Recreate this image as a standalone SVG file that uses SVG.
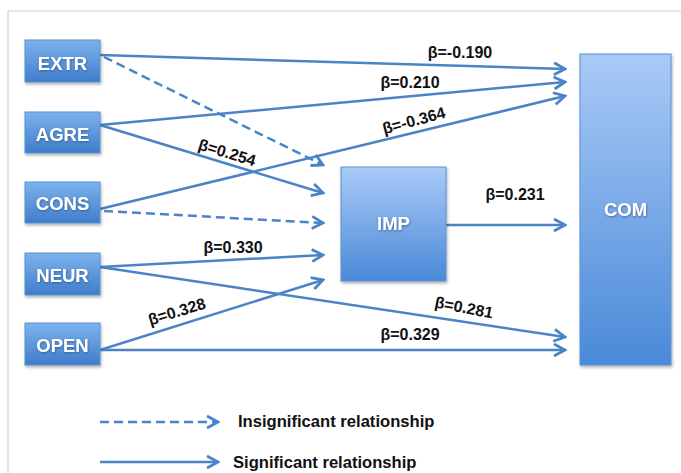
<svg xmlns="http://www.w3.org/2000/svg" width="681" height="473" viewBox="0 0 681 473">
<defs>
<linearGradient id="gs" x1="0" y1="0" x2="0" y2="1">
<stop offset="0" stop-color="#7db3ee"/>
<stop offset="1" stop-color="#3f7dcb"/>
</linearGradient>
<linearGradient id="gb" x1="0" y1="0" x2="0" y2="1">
<stop offset="0" stop-color="#a9caf7"/>
<stop offset="1" stop-color="#4a8ad8"/>
</linearGradient>
<filter id="sh" x="-10%" y="-10%" width="125%" height="125%">
<feDropShadow dx="1" dy="2" stdDeviation="1.5" flood-color="#000" flood-opacity="0.3"/>
</filter>
<filter id="ts" x="-10%" y="-20%" width="120%" height="150%">
<feDropShadow dx="0.5" dy="1" stdDeviation="0.8" flood-color="#1a3a66" flood-opacity="0.6"/>
</filter>
<marker id="ah" markerUnits="userSpaceOnUse" markerWidth="16" markerHeight="16" viewBox="0 0 16 16" refX="14" refY="8" orient="auto">
<polyline points="3,2 14,8 3,14" fill="none" stroke="#4a84c6" stroke-width="2.8" stroke-linejoin="miter"/>
</marker>
</defs>
<style>
.box{stroke:#5b8fcf;stroke-width:1;filter:url(#sh)}
.sm{fill:url(#gs)}
.bg{fill:url(#gb)}
.bl{font-family:"Liberation Sans",Arial,sans-serif;font-weight:bold;font-size:18.5px;fill:#fff;text-anchor:middle;filter:url(#ts)}
.ln{fill:none;stroke:#4a84c6;stroke-width:2.5;marker-end:url(#ah)}
.ds{stroke-dasharray:9,5}
.lb{font-family:"Liberation Sans",Arial,sans-serif;font-weight:bold;font-size:16px;fill:#111;text-anchor:middle}
.lg{font-family:"Liberation Sans",Arial,sans-serif;font-weight:bold;font-size:16.6px;fill:#111}
</style>
<rect width="681" height="473" fill="#fff"/>
<path d="M8,473 V11 H681" fill="none" stroke="#cfcfcf" stroke-width="1.2"/>

<g id="connectors">
<path class="ln" d="M100,55 L565,69"/>
<path class="ln" d="M100,125 L565,82"/>
<path class="ln" d="M100,209 L565,96"/>
<path class="ln ds" d="M104,57 L323,165"/>
<path class="ln" d="M100,125 L323,193"/>
<path class="ln ds" d="M104,211 L323,223"/>
<path class="ln" d="M100,267 L323,255"/>
<path class="ln" d="M100,350 L323,280"/>
<path class="ln" d="M100,267 L565,337"/>
<path class="ln" d="M100,350 L565,350"/>
<path class="ln" d="M446,225 L565,225"/>
<path class="ln ds" d="M100,422 L218,422"/>
<path class="ln" d="M100,462 L218,462"/>
</g>

<g id="EXTR"><rect class="box sm" x="25" y="40" width="75" height="42"/><text class="bl" x="62.5" y="70">EXTR</text></g>
<g id="AGRE"><rect class="box sm" x="25" y="112" width="75" height="41"/><text class="bl" x="62.5" y="141">AGRE</text></g>
<g id="CONS"><rect class="box sm" x="25" y="182" width="75" height="41"/><text class="bl" x="62.5" y="210">CONS</text></g>
<g id="NEUR"><rect class="box sm" x="25" y="253" width="75" height="42"/><text class="bl" x="62.5" y="282">NEUR</text></g>
<g id="OPEN"><rect class="box sm" x="25" y="323" width="75" height="42"/><text class="bl" x="62.5" y="352">OPEN</text></g>
<g id="IMP"><rect class="box bg" x="341" y="167" width="105" height="114"/><text class="bl" x="393.5" y="230">IMP</text></g>
<g id="COM"><rect class="box bg" x="580" y="54" width="91" height="311"/><text class="bl" x="625.5" y="216">COM</text></g>

<g id="labels">
<text class="lb" x="460" y="58">β=-0.190</text>
<text class="lb" x="410" y="88">β=0.210</text>
<text class="lb" x="414" y="126" transform="rotate(-15 414 121)">β=-0.364</text>
<text class="lb" x="227" y="158" transform="rotate(17 227 153)">β=0.254</text>
<text class="lb" x="515" y="200">β=0.231</text>
<text class="lb" x="233" y="253">β=0.330</text>
<text class="lb" x="177" y="317" transform="rotate(-17 177 312)">β=0.328</text>
<text class="lb" x="464" y="313" transform="rotate(11 464 308)">β=0.281</text>
<text class="lb" x="410" y="340">β=0.329</text>
<text class="lg" x="238" y="427">Insignificant relationship</text>
<text class="lg" x="233" y="468">Significant relationship</text>
</g>
</svg>
